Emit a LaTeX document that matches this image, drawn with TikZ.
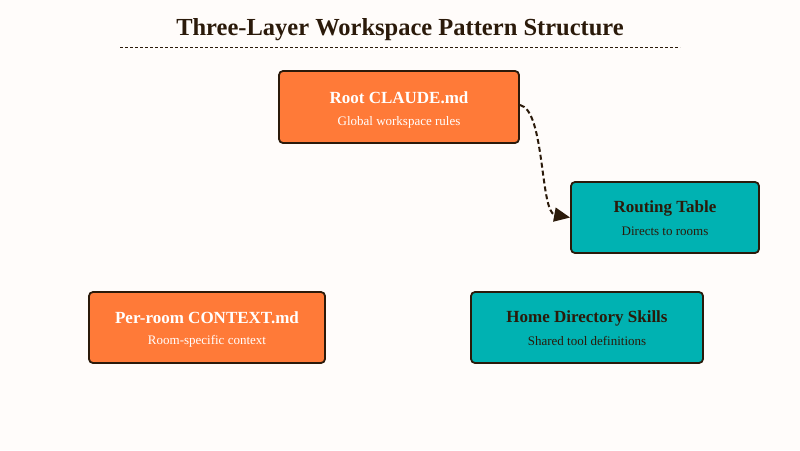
\documentclass[tikz,border=0pt]{standalone}
\usepackage{fontspec}
\setmainfont{Liberation Serif}
\usetikzlibrary{arrows.meta}
\definecolor{bg}{HTML}{FFFCFA}
\definecolor{org}{HTML}{FF7A38}
\definecolor{teal2}{HTML}{00B2B2}
\definecolor{brd}{HTML}{2B1A0A}
\begin{document}
\begin{tikzpicture}[x=1pt,y=-1pt,
 box/.style={draw=brd,line width=1.8pt,rounded corners=4pt,inner sep=0pt,align=center},
 ob/.style={box,fill=org,text=white},
 tb/.style={box,fill=teal2,text=brd},
 hd/.style={font=\bfseries\fontsize{17}{20}\selectfont},
 sb/.style={font=\fontsize{13}{15}\selectfont}]
\fill[bg] (0,0) rectangle (800,450);
\useasboundingbox (0,0) rectangle (800,450);
\node[font=\bfseries\fontsize{24.5}{28}\selectfont,text=brd] (title) at (400,30) {Three-Layer Workspace Pattern Structure};
\draw[brd,dash pattern=on 3pt off 2pt,line width=1pt] (120,47) -- (680,47);
\node[ob,minimum width=240,minimum height=72] (root) at (399,107) {};
\node[hd,text=white] at (399,98) {Root CLAUDE.md};
\node[sb,text=white] at (399,122) {Global workspace rules};
\node[tb,minimum width=188,minimum height=71] (rt) at (665,217.5) {};
\node[hd,text=brd] at (665,208) {Routing Table};
\node[sb,text=brd] at (665,231) {Directs to rooms};
\node[ob,minimum width=236,minimum height=71] (pr) at (207,327.5) {};
\node[hd,text=white] at (207,318) {Per-room CONTEXT.md};
\node[sb,text=white] at (207,341) {Room-specific context};
\node[tb,minimum width=232,minimum height=71] (hd) at (587,327.5) {};
\node[hd,text=brd] at (587,318) {Home Directory Skills};
\node[sb,text=brd] at (587,341) {Shared tool definitions};
\coordinate (s) at (520,105);
\draw[brd,dash pattern=on 5pt off 3pt,line width=2pt,-{Triangle[length=16pt,width=14pt]}]
  (s) .. controls (545,110) and (540,212) .. (rt.west);
\end{tikzpicture}
\end{document}
